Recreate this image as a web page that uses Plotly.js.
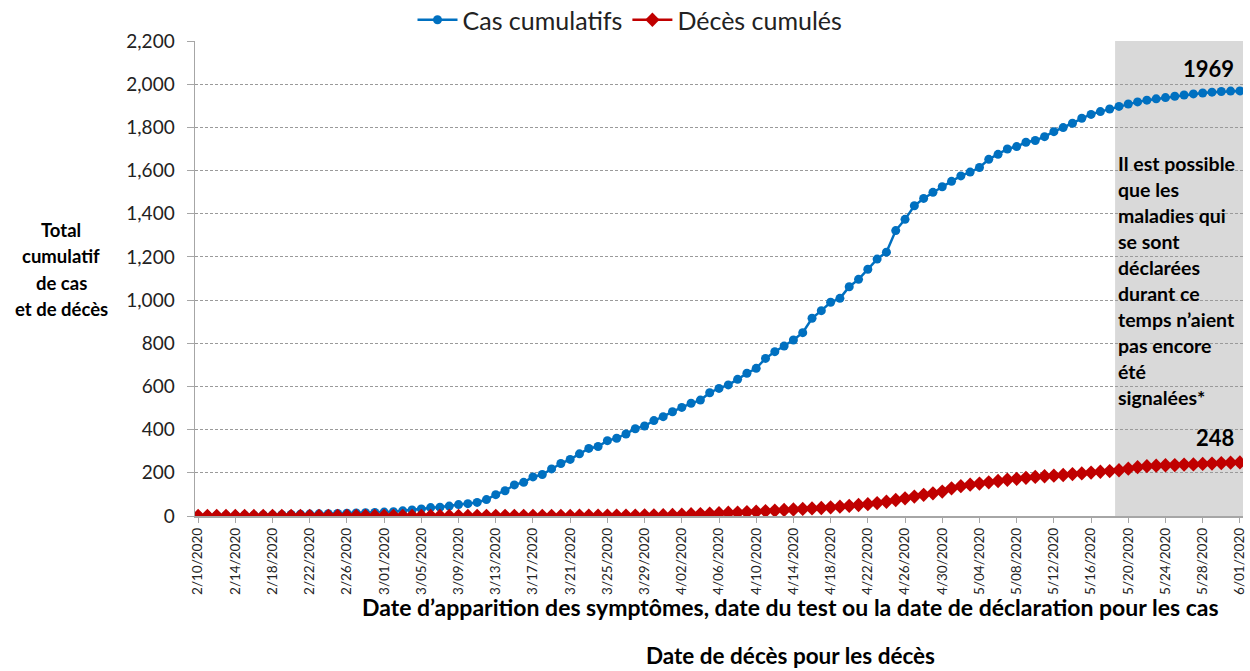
<!DOCTYPE html>
<html>
<head>
<meta charset="utf-8">
<script src="https://cdn.plot.ly/plotly-3.0.1.min.js"></script>
<style>html,body{margin:0;padding:0;background:#fff;}#chart{width:1250px;height:671px;}</style>
</head>
<body>
<div id="chart"></div>
<script>
// Daily series starting 2020-02-10 through 2020-06-01
const startDate = '2020-02-10';
const casCumulatifs = [
  2, 2, 3, 3, 3, 4, 4, 5, 5, 6,
  7, 8, 9, 10, 11, 12, 13, 14, 15, 16,
  18, 20, 24, 28, 33, 39, 41, 46, 53, 57,
  63, 76, 99, 117, 144, 156, 181, 192, 218, 243,
  262, 288, 313, 322, 349, 360, 380, 404, 417, 442,
  460, 483, 503, 522, 537, 571, 591, 607, 633, 661,
  684, 730, 761, 787, 815, 849, 916, 951, 990, 1008,
  1062, 1096, 1143, 1190, 1222, 1322, 1374, 1437, 1471, 1499,
  1525, 1550, 1575, 1593, 1614, 1652, 1675, 1700, 1711, 1731,
  1739, 1757, 1780, 1799, 1819, 1842, 1860, 1873, 1885, 1897,
  1908, 1918, 1926, 1932, 1938, 1944, 1950, 1955, 1959, 1963,
  1966, 1968, 1969
];
const decesCumules = [
  0, 0, 0, 0, 0, 0, 0, 0, 0, 0,
  0, 0, 0, 0, 0, 0, 0, 0, 0, 0,
  0, 0, 0, 0, 0, 0, 0, 0, 0, 0,
  1, 1, 1, 1, 1, 1, 1, 1, 1, 1,
  1, 2, 2, 2, 2, 2, 2, 2, 3, 3,
  4, 5, 6, 8, 9, 11, 13, 15, 16, 18,
  20, 23, 25, 28, 30, 33, 35, 37, 40, 43,
  47, 51, 55, 60, 66, 74, 82, 90, 98, 105,
  113, 128, 138, 145, 150, 156, 162, 168, 172, 177,
  181, 184, 187, 190, 194, 197, 201, 205, 208, 212,
  219, 226, 231, 233, 235, 236, 238, 239, 241, 243,
  245, 247, 248
];
const seriesNames = ['Cas cumulatifs', 'Décès cumulés'];
const labelCas = '1969';
const labelDeces = '248';
const yTitleLines = ['Total', 'cumulatif', 'de cas', 'et de décès'];
const noteLines = ['Il est possible', 'que les', 'maladies qui', 'se sont', 'déclarées', 'durant ce', 'temps n’aient', 'pas encore', 'été', 'signalées*'];
const xTitleLines = ['Date d’apparition des symptômes, date du test ou la date de déclaration pour les cas', 'Date de décès pour les décès'];
const shadeStart = '2020-05-18 14:00';

// Build date categories
const dates = [];
(function(){
  const d0 = new Date(startDate + 'T00:00:00Z');
  for (let i = 0; i < casCumulatifs.length; i++) {
    const d = new Date(d0.getTime() + i * 86400000);
    dates.push(d.toISOString().slice(0, 10));
  }
})();

const FONT = 'Lato, "Open Sans", sans-serif';
const BLUE = 'rgb(0,112,192)';
const RED = 'rgb(192,0,0)';

const traces = [
  {x: dates, y: casCumulatifs, name: seriesNames[0], type: 'scatter', mode: 'lines+markers',
   line: {color: BLUE, width: 2.5}, marker: {color: BLUE, size: 9, symbol: 'circle'}},
  {x: dates, y: decesCumules, name: seriesNames[1], type: 'scatter', mode: 'lines+markers',
   line: {color: RED, width: 2.5}, marker: {color: RED, size: 11, symbol: 'diamond'}}
];

// pixel helpers for annotations (plot area: left 195, right 1243, top 41, bottom 516)
const PL = 195, PR = 1243, PT = 41, PB = 516;
const px = v => (v - PL) / (PR - PL);
const py = v => (PB - v) / (PB - PT);

const annotations = [];
annotations.push({xref: 'paper', yref: 'paper', x: px(1236), y: py(68), xanchor: 'right', yanchor: 'middle',
  text: '<b>' + labelCas + '</b>', showarrow: false, font: {family: FONT, size: 22, color: '#000'}});
annotations.push({xref: 'paper', yref: 'paper', x: px(1236), y: py(437), xanchor: 'right', yanchor: 'middle',
  text: '<b>' + labelDeces + '</b>', showarrow: false, font: {family: FONT, size: 22, color: '#000'}});
noteLines.forEach((t, k) => {
  annotations.push({xref: 'paper', yref: 'paper', x: px(1116), y: py(163 + k * 26.1), xanchor: 'left', yanchor: 'middle',
    text: '<b>' + t + '</b>', showarrow: false, font: {family: FONT, size: 19.5, color: '#000'}});
});
yTitleLines.forEach((t, k) => {
  annotations.push({xref: 'paper', yref: 'paper', x: px(61), y: py(230 + k * 26.3), xanchor: 'center', yanchor: 'middle',
    text: '<b>' + t + '</b>', showarrow: false, font: {family: FONT, size: 18.5, color: '#000'}});
});
annotations.push({xref: 'paper', yref: 'paper', x: px(790), y: py(607), xanchor: 'center', yanchor: 'middle',
  text: '<b>' + xTitleLines[0] + '</b>', showarrow: false, font: {family: FONT, size: 23, color: '#000'}});
annotations.push({xref: 'paper', yref: 'paper', x: px(790), y: py(655), xanchor: 'center', yanchor: 'middle',
  text: '<b>' + xTitleLines[1] + '</b>', showarrow: false, font: {family: FONT, size: 22.5, color: '#000'}});

const layout = {
  width: 1250, height: 671,
  margin: {l: PL, r: 1250 - PR, t: PT, b: 671 - PB, autoexpand: false},
  paper_bgcolor: '#fff', plot_bgcolor: '#fff',
  font: {family: FONT, color: '#222'},
  showlegend: true,
  legend: {orientation: 'h', x: px(630), y: py(20), xanchor: 'center', yanchor: 'middle',
    font: {family: FONT, size: 25, color: '#222'}, itemwidth: 40, bgcolor: 'rgba(0,0,0,0)'},
  xaxis: {
    type: 'date',
    range: ['2020-02-09 16:00', '2020-06-01 08:00'],
    tick0: startDate, dtick: 4 * 86400000,
    tickformat: '%-m/%d/%Y', tickangle: -90,
    tickfont: {family: FONT, size: 13.5, color: '#222'},
    showgrid: false, zeroline: false,
    showline: true, linecolor: '#a6a6a6', linewidth: 1.5,
    ticks: 'outside', ticklen: 5, tickcolor: '#a6a6a6'
  },
  yaxis: {
    range: [0, 2200], dtick: 200, tickformat: ',d',
    tickfont: {family: FONT, size: 19, color: '#222'},
    showgrid: true, gridcolor: '#9a9a9a', griddash: '3px,2px', gridwidth: 1,
    zeroline: false, showline: true, linecolor: '#a6a6a6', linewidth: 1.5,
    ticks: 'outside', ticklen: 7, tickcolor: '#a6a6a6', ticklabelstandoff: 8
  },
  shapes: [{type: 'rect', xref: 'x', yref: 'paper', x0: shadeStart, x1: '2020-06-01 08:00', y0: 0, y1: 1,
    fillcolor: 'rgb(217,217,217)', line: {width: 0}, layer: 'between'}],
  annotations: annotations
};

Plotly.newPlot('chart', traces, layout, {displayModeBar: false, staticPlot: true});
</script>
</body>
</html>
